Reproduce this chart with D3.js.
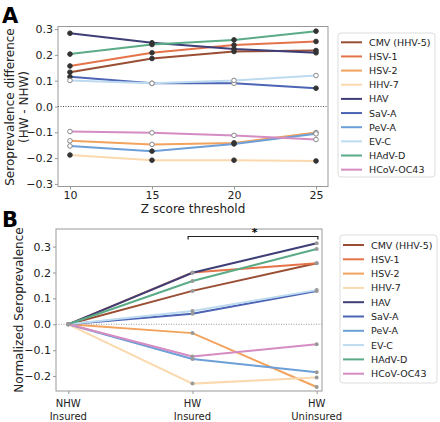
<!DOCTYPE html>
<html><head><meta charset="utf-8">
<script src="https://cdn.jsdelivr.net/npm/d3@7"></script>
<style>body{margin:0;background:#fff}svg{display:block;font-family:"DejaVu Sans",sans-serif}</style>
</head><body><svg id="c" width="440" height="422"></svg>
<script>
const seriesNames = ["CMV (HHV-5)","HSV-1","HSV-2","HHV-7","HAV","SaV-A","PeV-A","EV-C","HAdV-D","HCoV-OC43"];
const seriesColors = ["#9a4e34","#e5734a","#f2a35e","#fbd9ae","#3f3f78","#4d64b5","#6d9fd8","#bcdaf0","#5aab86","#d58cc2"];
const thresholds = [10,15,20,25];
const diffCMV  = [0.133,0.186,0.213,0.217];
const diffHSV1 = [0.157,0.208,0.238,0.252];
const diffHSV2 = [-0.133,-0.147,-0.141,-0.101];
const diffHHV7 = [-0.188,-0.208,-0.208,-0.211];
const diffHAV  = [0.284,0.247,0.223,0.208];
const diffSaVA = [0.115,0.090,0.090,0.071];
const diffPeVA = [-0.153,-0.173,-0.145,-0.106];
const diffEVC  = [0.101,0.090,0.101,0.120];
const diffHAdV = [0.203,0.240,0.258,0.292];
const diffHCoV = [-0.097,-0.102,-0.112,-0.128];
const sigCMV=[1,1,1,1], sigHSV1=[1,1,1,1], sigHSV2=[0,0,1,0], sigHHV7=[1,1,1,1], sigHAV=[1,1,1,1],
      sigSaVA=[1,0,0,1], sigPeVA=[0,1,1,0], sigEVC=[0,0,0,0], sigHAdV=[1,1,1,1], sigHCoV=[0,0,0,0];
const groups = ["NHW\nInsured","HW\nInsured","HW\nUninsured"];
const normCMV  = [0,0.129,0.236];
const normHSV1 = [0,0.200,0.236];
const normHSV2 = [0,-0.034,-0.242];
const normHHV7 = [0,-0.229,-0.205];
const normHAV  = [0,0.199,0.313];
const normSaVA = [0,0.041,0.129];
const normPeVA = [0,-0.134,-0.185];
const normEVC  = [0,0.051,0.132];
const normHAdV = [0,0.167,0.291];
const normHCoV = [0,-0.124,-0.077];
const yTicksA = [0.3,0.2,0.1,0.0,-0.1,-0.2,-0.3];
const yTicksB = [0.3,0.2,0.1,0.0,-0.1,-0.2];

const diffA = [diffCMV,diffHSV1,diffHSV2,diffHHV7,diffHAV,diffSaVA,diffPeVA,diffEVC,diffHAdV,diffHCoV];
const sigA = [sigCMV,sigHSV1,sigHSV2,sigHHV7,sigHAV,sigSaVA,sigPeVA,sigEVC,sigHAdV,sigHCoV];
const normB = [normCMV,normHSV1,normHSV2,normHHV7,normHAV,normSaVA,normPeVA,normEVC,normHAdV,normHCoV];

const svg = d3.select("#c");
const fmt = v => (v<0?"\u2212":"") + Math.abs(v).toFixed(1);
const spine = "#999";
const TICK = 11, LAB = 12, LEG = 9.5;

// ---------- Panel A ----------
const xA = d3.scaleLinear().domain([9.27,25.73]).range([58,328]);
const yA = d3.scaleLinear().domain([-0.31,0.31]).range([186.5,26.5]);
const gA = svg.append("g");
gA.append("rect").attr("x",58).attr("y",26.5).attr("width",270).attr("height",160)
  .attr("fill","none").attr("stroke",spine).attr("stroke-width",1);
const axYA = gA.append("g").attr("transform","translate(58,0)")
  .call(d3.axisLeft(yA).tickValues(yTicksA).tickFormat(fmt).tickSize(3).tickPadding(2));
const axXA = gA.append("g").attr("transform","translate(0,186.5)")
  .call(d3.axisBottom(xA).tickValues(thresholds).tickSize(3).tickPadding(1.5));
[axYA,axXA].forEach(a=>{a.select(".domain").remove();a.selectAll("line").attr("stroke",spine);
  a.selectAll("text").attr("font-size",TICK).attr("fill","#222").attr("font-family","DejaVu Sans");});
gA.append("line").attr("x1",58).attr("x2",328).attr("y1",yA(0)).attr("y2",yA(0))
  .attr("stroke","#555").attr("stroke-width",1).attr("stroke-dasharray","1,1.5");
const lineA = d3.line().x((d,i)=>xA(thresholds[i])).y(d=>yA(d));
diffA.forEach((s,k)=>{
  gA.append("path").attr("d",lineA(s)).attr("fill","none").attr("stroke",seriesColors[k]).attr("stroke-width",2);
});
diffA.forEach((s,k)=>{
  s.forEach((v,i)=>{
    const f = sigA[k][i];
    gA.append("circle").attr("cx",xA(thresholds[i])).attr("cy",yA(v)).attr("r",2.3)
      .attr("fill",f?"#333":"#fff").attr("stroke",f?"#333":"#888").attr("stroke-width",1);
  });
});
gA.append("text").attr("x",193).attr("y",212.5).attr("text-anchor","middle").attr("font-size",LAB).attr("fill","#222").text("Z score threshold");
gA.append("text").attr("transform","translate(14,107) rotate(-90)").attr("text-anchor","middle").attr("font-size",LAB).attr("fill","#222").text("Seroprevalence difference");
gA.append("text").attr("transform","translate(27.5,107) rotate(-90)").attr("text-anchor","middle").attr("font-size",LAB).attr("fill","#222").text("(HW - NHW)");
svg.append("text").attr("x",2).attr("y",22.5).attr("font-size",21).attr("font-weight","bold").text("A");

// ---------- Panel B ----------
const xB = d3.scaleLinear().domain([-0.099,2.043]).range([56,322]);
const yB = d3.scaleLinear().domain([-0.2575,0.368]).range([391,229]);
const gB = svg.append("g");
gB.append("rect").attr("x",56).attr("y",229).attr("width",266).attr("height",162)
  .attr("fill","none").attr("stroke",spine).attr("stroke-width",1);
const axYB = gB.append("g").attr("transform","translate(56,0)")
  .call(d3.axisLeft(yB).tickValues(yTicksB).tickFormat(fmt).tickSize(3).tickPadding(2));
const axXB = gB.append("g").attr("transform","translate(0,391)")
  .call(d3.axisBottom(xB).tickValues([0,1,2]).tickFormat("").tickSize(3));
[axYB,axXB].forEach(a=>{a.select(".domain").remove();a.selectAll("line").attr("stroke",spine);
  a.selectAll("text").attr("font-size",TICK).attr("fill","#222").attr("font-family","DejaVu Sans");});
groups.forEach((g,i)=>{
  const t = gB.append("text").attr("x",xB(i)).attr("y",407).attr("text-anchor","middle").attr("font-size",10).attr("fill","#222");
  g.split("\n").forEach((ln,j)=>t.append("tspan").attr("x",xB(i)).attr("dy",j?12.5:0).text(ln));
});
gB.append("line").attr("x1",56).attr("x2",322).attr("y1",yB(0)).attr("y2",yB(0))
  .attr("stroke","#999").attr("stroke-width",1).attr("stroke-dasharray","1,1.5");
const lineB = d3.line().x((d,i)=>xB(i)).y(d=>yB(d));
normB.forEach((s,k)=>{
  gB.append("path").attr("d",lineB(s)).attr("fill","none").attr("stroke",seriesColors[k]).attr("stroke-width",2);
});
normB.forEach(s=>{
  s.forEach((v,i)=>{
    gB.append("circle").attr("cx",xB(i)).attr("cy",yB(v)).attr("r",2).attr("fill","#999").attr("stroke","none");
  });
});
// significance bracket
const bY = 236.5;
gB.append("path").attr("d",`M${xB(0.965)},${bY+3}V${bY}H${xB(2.01)}V${bY+3}`).attr("fill","none").attr("stroke","#222").attr("stroke-width",1.2);
gB.append("text").attr("x",xB(1.5)).attr("y",bY-1).attr("text-anchor","middle").attr("font-size",11).attr("font-weight","bold").text("*");
gB.append("text").attr("transform","translate(23,310) rotate(-90)").attr("text-anchor","middle").attr("font-size",LAB).attr("fill","#222").text("Normalized Seroprevalence");
svg.append("text").attr("x",2).attr("y",227).attr("font-size",21).attr("font-weight","bold").text("B");

// ---------- Legends ----------
function legend(x0,y0,w,h,ly0,step,lx1,lx2,tx){
  const g = svg.append("g");
  g.append("rect").attr("x",x0).attr("y",y0).attr("width",w).attr("height",h).attr("rx",3)
    .attr("fill","#fff").attr("stroke","#ddd").attr("stroke-width",1);
  seriesNames.forEach((n,k)=>{
    const y = ly0 + k*step;
    g.append("line").attr("x1",lx1).attr("x2",lx2).attr("y1",y).attr("y2",y).attr("stroke",seriesColors[k]).attr("stroke-width",2);
    g.append("text").attr("x",tx).attr("y",y+3.5).attr("font-size",LEG).attr("fill","#222").text(n);
  });
}
legend(338,33,97,144,42.3,14.15,341,362,369);
legend(340,235,97,148,245,14.3,343,364,371);
</script></body></html>
